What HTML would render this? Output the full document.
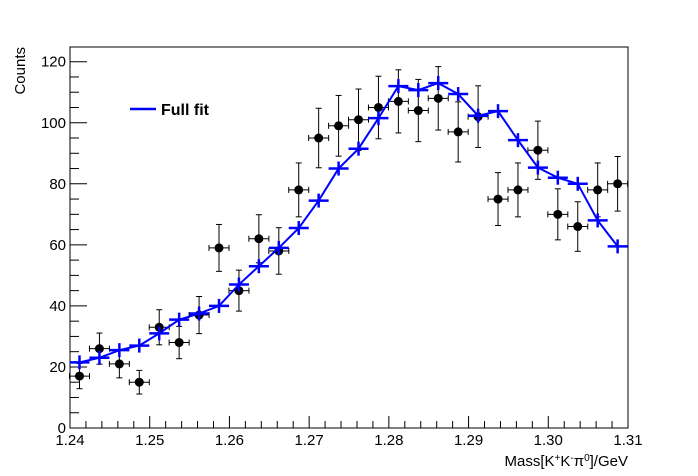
<!DOCTYPE html>
<html><head><style>body{margin:0;background:#fff}svg{display:block}text{font-family:"Liberation Sans",Arial,sans-serif}</style></head>
<body>
<svg id="s" width="698" height="476" xmlns="http://www.w3.org/2000/svg">
<rect width="698" height="476" fill="#fff"/>
<g id="ax" stroke="#000" stroke-width="1" fill="none"></g>
<g id="lab" font-size="15" fill="#000"></g>
<text x="628" y="466" font-size="15" text-anchor="end">Mass[K<tspan dy="-5" font-size="10">+</tspan><tspan dy="5">K</tspan><tspan dy="-5" font-size="10">-</tspan><tspan dy="5">π</tspan><tspan dy="-5" font-size="10">0</tspan><tspan dy="5">]/GeV</tspan></text>
<text transform="translate(25,47) rotate(-90)" font-size="15" text-anchor="end">Counts</text>
<line x1="130" y1="109" x2="156" y2="109" stroke="#0000ff" stroke-width="2.5"/>
<text x="161" y="115" font-size="16" font-weight="bold">Full fit</text>
<g id="dat"></g>
<g id="fit"></g>
</svg>
<script>
const NS="http://www.w3.org/2000/svg";
function el(p,t,a){const e=document.createElementNS(NS,t);for(const k in a)e.setAttribute(k,a[k]);p.appendChild(e);return e;}
const X=v=>70+(v-1.24)/0.07*558, Y=v=>428-v*3.0525;
const ax=document.getElementById('ax'),lab=document.getElementById('lab');
el(ax,'rect',{x:70,y:47,width:558,height:381});
for(let v=0;v<=124;v+=5){const y=Y(v);const maj=v%20==0;el(ax,'line',{x1:70,y1:y,x2:70+(maj?17:9),y2:y});
 if(maj){const t=el(lab,'text',{x:66,y:y+5,'text-anchor':'end'});t.textContent=v;}}
for(let i=0;i<=35;i++){const v=1.24+i*0.002;const x=X(v);const maj=i%5==0;el(ax,'line',{x1:x,y1:428,x2:x,y2:428-(maj?12:7)});
 if(maj){const t=el(lab,'text',{x:x,y:445,'text-anchor':'middle'});t.textContent=v.toFixed(2);}}
const d=[17,26,21,15,33,28,37,59,45,62,58,78,95,99,101,105,107,104,108,97,102,75,78,91,70,66,78,80];
const f=[21.5,23,25.5,27,31,35.5,37.5,40,47,53,59,65.5,74.5,85,91.5,101.5,112,110.7,113,109.4,102.3,103.8,94.3,85.3,82,80,68,59.5];
const g=document.getElementById('dat'),fg=document.getElementById('fit');
d.forEach((v,i)=>{const x=79.5+i*19.93,y=Y(v),e=Math.sqrt(v)*3.0525;
 el(g,'line',{x1:x-10,y1:y,x2:x+10,y2:y,stroke:'#000'});
 el(g,'line',{x1:x-10,y1:y-3,x2:x-10,y2:y+3,stroke:'#000'});
 el(g,'line',{x1:x+10,y1:y-3,x2:x+10,y2:y+3,stroke:'#000'});
 el(g,'line',{x1:x,y1:y-e,x2:x,y2:y+e,stroke:'#000'});
 el(g,'line',{x1:x-3,y1:y-e,x2:x+3,y2:y-e,stroke:'#000'});
 el(g,'line',{x1:x-3,y1:y+e,x2:x+3,y2:y+e,stroke:'#000'});
 el(g,'circle',{cx:x,cy:y,r:4.5,fill:'#000'});});
let p='';f.forEach((v,i)=>{p+=(i?'L':'M')+(79.5+i*19.93)+','+Y(v);});
el(fg,'path',{d:p,stroke:'#0000ff','stroke-width':2,fill:'none'});
f.forEach((v,i)=>{const x=79.5+i*19.93,y=Y(v);
 el(fg,'line',{x1:x-10,y1:y,x2:x+10,y2:y,stroke:'#0000ff','stroke-width':2.5});
 el(fg,'line',{x1:x,y1:y-7,x2:x,y2:y+7,stroke:'#0000ff','stroke-width':2.5});});
</script>
</body></html>
